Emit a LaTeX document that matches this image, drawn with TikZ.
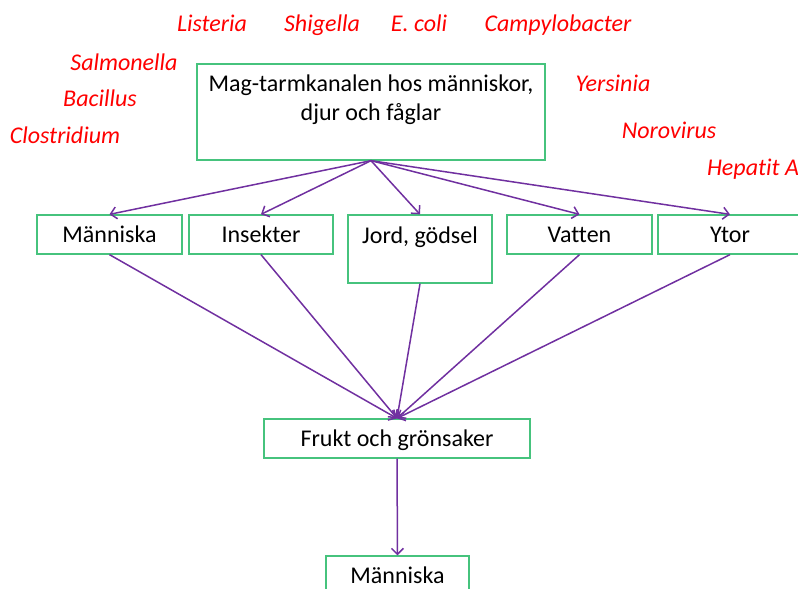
\documentclass[tikz,border=0pt]{standalone}
\usepackage{fontspec}
\setmainfont{Carlito}[Ligatures={NoCommon}]
\usetikzlibrary{arrows.meta}
\definecolor{boxgreen}{RGB}{70,195,125}
\definecolor{arrowpurple}{RGB}{112,48,160}
\definecolor{bugred}{RGB}{255,0,0}
\tikzset{
  box/.style={draw=boxgreen, line width=1.3pt, inner sep=0pt, fill=white,
    font=\fontsize{24}{29}\selectfont, text height=16pt, text depth=0pt},
  txt/.style={inner sep=0pt, anchor=base, font=\fontsize{24}{29}\selectfont},
  bug/.style={inner sep=0pt, anchor=base, text=bugred, font=\fontsize{24}{29}\selectfont\itshape},
  link/.style={draw=arrowpurple, line width=1.5pt, -{Straight Barb[length=6pt,width=12pt]}},
}
\begin{document}
\begin{tikzpicture}[x=1pt,y=-1pt]
\useasboundingbox (0,0) rectangle (798,589);
% pathogens
\node[bug] (listeria) at (212,31) {Listeria};
\node[bug] (shigella) at (322,31) {Shigella};
\node[bug] (ecoli) at (419,31) {E. coli};
\node[bug] (campy) at (558,31) {Campylobacter};
\node[bug] (salmo) at (124,70) {Salmonella};
\node[bug] (bacil) at (100,106) {Bacillus};
\node[bug] (clost) at (65,143) {Clostridium};
\node[bug] (yers) at (613,91) {Yersinia};
\node[bug] (noro) at (669,138) {Norovirus};
\node[bug] (hepa) at (753,175) {Hepatit A};
% top box
\node[box, minimum width=348pt, minimum height=96pt] (top) at (371,112) {};
\node[txt] (topl1) at (371,91.5) {Mag-tarmkanalen hos människor,};
\node[txt] (topl2) at (371,120.5) {djur och fåglar};
% second row
\node[box, minimum width=145pt, minimum height=39pt] (man1) at (109.5,234.5) {Människa};
\node[box, minimum width=144pt, minimum height=39pt] (ins) at (261,234.5) {Insekter};
\node[box, minimum width=144pt, minimum height=68pt] (jord) at (420,249) {};
\node[txt] (jordt) at (420,243) {Jord, gödsel};
\node[box, minimum width=145pt, minimum height=39pt] (vat) at (579.5,234.5) {Vatten};
\node[box, minimum width=144pt, minimum height=39pt] (ytor) at (730,234.5) {Ytor};
% lower
\node[box, minimum width=266pt, minimum height=39pt] (frukt) at (397,438.5) {Frukt och grönsaker};
\node[box, minimum width=143pt, minimum height=38pt] (man2) at (397.5,575) {};
\node[txt] (man2t) at (397.5,583) {Människa};
% arrows
\foreach \n in {man1,ins,jord,vat,ytor}{
  \draw[link] (top.south) -- (\n.north);
  \draw[link] (\n.south) -- (frukt.north);
}
\draw[link] (frukt.south) -- (man2.north);
\end{tikzpicture}
\end{document}
